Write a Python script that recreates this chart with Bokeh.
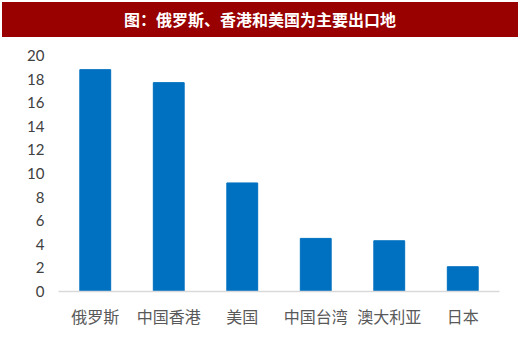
from bokeh.plotting import figure
from bokeh.models import Div, FactorRange
from bokeh.layouts import column
from bokeh.embed import file_html
from bokeh.resources import INLINE

categories = ["俄罗斯", "中国香港", "美国", "中国台湾", "澳大利亚", "日本"]
values = [18.8, 17.7, 9.2, 4.5, 4.3, 2.1]
title_text = "图：俄罗斯、香港和美国为主要出口地"

banner = Div(
    text=title_text,
    width=516, height=35,
    margin=(2, 2, 0, 2),
    styles={
        "background-color": "#990000",
        "color": "white",
        "text-align": "center",
        "font-weight": "bold",
        "font-size": "16px",
        "line-height": "35px",
        "font-family": "Noto Sans CJK SC",
        "width": "516px",
    },
)

p = figure(
    x_range=FactorRange(*categories),
    y_range=(0, 20),
    width=520, height=304,
    output_backend="svg",
    toolbar_location=None,
    min_border_left=58, min_border_right=21,
    min_border_top=18, min_border_bottom=50,
)
p.vbar(x=categories, top=values, width=0.42, color="#0070C0")

p.outline_line_color = None
p.xgrid.grid_line_color = None
p.ygrid.grid_line_color = None

p.yaxis.axis_line_color = None
p.yaxis.major_tick_line_color = None
p.yaxis.minor_tick_line_color = None
p.yaxis.ticker = list(range(0, 21, 2))
p.yaxis.major_label_text_font = "Lato"
p.yaxis.major_label_text_font_size = "15px"
p.yaxis.major_label_text_color = "#404040"
p.yaxis.major_label_standoff = 8

p.xaxis.axis_line_color = "#D9D9D9"
p.xaxis.axis_line_width = 1.5
p.xaxis.major_tick_line_color = None
p.xaxis.minor_tick_line_color = None
p.xaxis.major_label_text_font = "Noto Sans CJK SC"
p.xaxis.major_label_text_font_size = "16px"
p.xaxis.major_label_text_color = "#595959"
p.xaxis.major_label_standoff = 6

layout = column(banner, p, spacing=0)
open("out.html", "w").write(file_html(layout, INLINE))
